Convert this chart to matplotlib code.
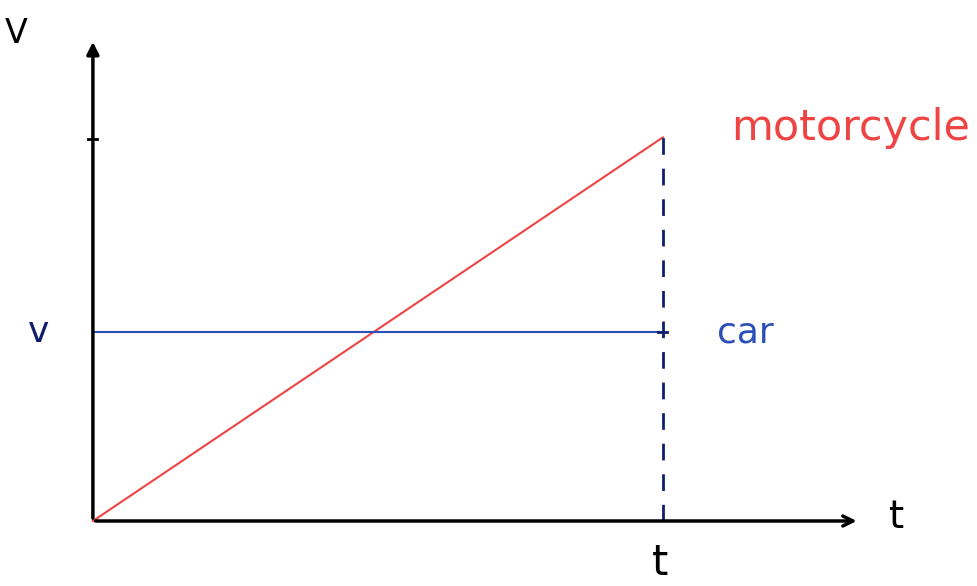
import matplotlib

matplotlib.use("Agg")
import matplotlib.pyplot as plt

# sketch values: time in units of t, speed in units of v
TIME = [0.0, 1.0]
MOTORCYCLE_SPEED = [0.0, 2.03]
CAR_SPEED = [1.0, 1.0]

RED = "#ee4444"
BLUE = "#2a4fb8"
NAVY = "#0f1f6e"

fig = plt.figure(figsize=(9.78, 5.86), dpi=100)
axis = fig.add_axes([0, 0, 1, 1])
axis.set_xlim(-0.163, 1.553)
axis.set_ylim(-0.344, 2.757)
axis.axis("off")

# hand-drawn style axes
axis.annotate("", xy=(0, 2.55), xytext=(0, 0),
              arrowprops=dict(arrowstyle="-|>", color="black", lw=2.5, mutation_scale=18))
axis.annotate("", xy=(1.345, 0), xytext=(0, 0),
              arrowprops=dict(arrowstyle="->", color="black", lw=2.5, mutation_scale=18))
axis.plot([-0.008, 0.008], [2.02, 2.02], color="black", lw=2)

axis.plot(TIME, MOTORCYCLE_SPEED, color=RED, lw=1.5)
axis.plot(TIME, CAR_SPEED, color=BLUE, lw=1.5)
axis.plot([TIME[1], TIME[1]], [0, MOTORCYCLE_SPEED[1]], color=NAVY, lw=2,
          linestyle=(0, (6, 5)))
axis.plot([TIME[1] - 0.008, TIME[1] + 0.008], [CAR_SPEED[1], CAR_SPEED[1]], color=NAVY, lw=2)

text_style = dict(family="DejaVu Sans", ha="center", va="center")
axis.text(-0.135, 2.58, "V", fontsize=24, color="black", **text_style)
axis.text(-0.095, 1.0, "v", fontsize=26, color=NAVY, **text_style)
axis.text(1.145, 1.0, "car", fontsize=26, color=BLUE, **text_style)
axis.text(1.33, 2.08, "motorcycle", fontsize=31, color=RED, **text_style)
axis.text(0.995, -0.22, "t", fontsize=30, color="black", **text_style)
axis.text(1.41, 0.02, "t", fontsize=28, color="black", **text_style)

fig.savefig("out.png", dpi=100)
